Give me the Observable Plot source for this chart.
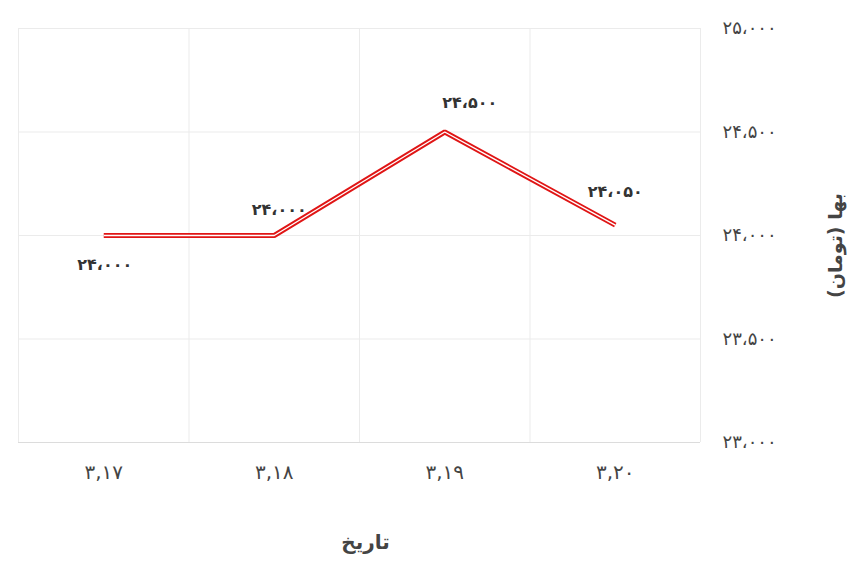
<!DOCTYPE html>
<html>
<head>
<meta charset="utf-8">
<script src="https://cdn.jsdelivr.net/npm/d3@7"></script>
<script src="https://cdn.jsdelivr.net/npm/@observablehq/plot@0.6"></script>
<style>
  html, body { margin: 0; padding: 0; background: #fff; }
  #chart svg { display: block; }
</style>
</head>
<body>
<div id="chart"></div>
<script>
// categories (dates) and series values
const dates = ["۳,۱۷", "۳,۱۸", "۳,۱۹", "۳,۲۰"];
const prices = [24000, 24000, 24500, 24050];
const priceLabels = ["۲۴،۰۰۰", "۲۴،۰۰۰", "۲۴،۵۰۰", "۲۴،۰۵۰"];
const labelPlacement = ["below", "above-left", "above-right", "above"];
// y axis ticks
const yTicks = [23000, 23500, 24000, 24500, 25000];
const yTickLabels = ["۲۳،۰۰۰", "۲۳،۵۰۰", "۲۴،۰۰۰", "۲۴،۵۰۰", "۲۵،۰۰۰"];
const xTitle = "تاریخ";
const yTitle = "بها (تومان)";

const points = dates.map((d, i) => ({i, date: d, price: prices[i], label: priceLabels[i], place: labelPlacement[i]}));
const xEdges = d3.range(dates.length + 1).map(i => i - 0.5);
const font = "DejaVu Sans, sans-serif";

const placeOffsets = {
  "below": [1, 29],
  "above-left": [5, -26],
  "above-right": [25, -29],
  "above": [0, -33]
};
const labelMarks = Object.entries(placeOffsets).map(([p, [dx, dy]]) =>
  Plot.text(points.filter(d => d.place === p), {
    x: "i", y: "price", text: "label", dx, dy,
    fontSize: 16, fontWeight: "bold", fill: "#333"
  })
);

const chart = Plot.plot({
  width: 860,
  height: 574,
  marginLeft: 18,
  marginRight: 160,
  marginTop: 28,
  marginBottom: 132,
  style: {fontFamily: font, background: "#fff"},
  x: {domain: [-0.5, dates.length - 0.5], axis: null},
  y: {domain: [23000, 25000], axis: null},
  marks: [
    Plot.ruleY(yTicks, {stroke: "#ebebeb", strokeWidth: 1}),
    Plot.ruleX(xEdges, {stroke: "#ebebeb", strokeWidth: 1}),
    Plot.ruleY([yTicks[0]], {stroke: "#dcdcdc", strokeWidth: 1}),
    Plot.text(yTicks, {x: dates.length - 0.5, y: d => d, text: (d, i) => yTickLabels[i], textAnchor: "start", dx: 22, fontSize: 18, fill: "#444"}),
    Plot.text(points, {x: "i", y: yTicks[0], text: "date", dy: 30, fontSize: 20, fill: "#444"}),
    Plot.line(points, {x: "i", y: "price", stroke: "#e01515", strokeWidth: 5, strokeLinejoin: "miter", strokeLinecap: "butt"}),
    Plot.line(points, {x: "i", y: "price", stroke: "#fff", strokeWidth: 1.4, strokeLinejoin: "miter", strokeLinecap: "butt"}),
    ...labelMarks,
    Plot.text([xTitle], {frameAnchor: "bottom", textAnchor: "middle", text: d => d, dy: 106, dx: 6, fontSize: 20, fontWeight: "bold", fill: "#444"}),
    Plot.text([yTitle], {frameAnchor: "right", textAnchor: "middle", text: d => d + "\u200F", rotate: -90, dx: 135, dy: 10, fontSize: 19, fontWeight: "bold", fill: "#444"})
  ]
});

d3.select(chart).selectAll("text").filter(function() {
  return this.textContent === xTitle;
}).attr("direction", "rtl").style("unicode-bidi", "embed");

document.getElementById("chart").appendChild(chart);
</script>
</body>
</html>
